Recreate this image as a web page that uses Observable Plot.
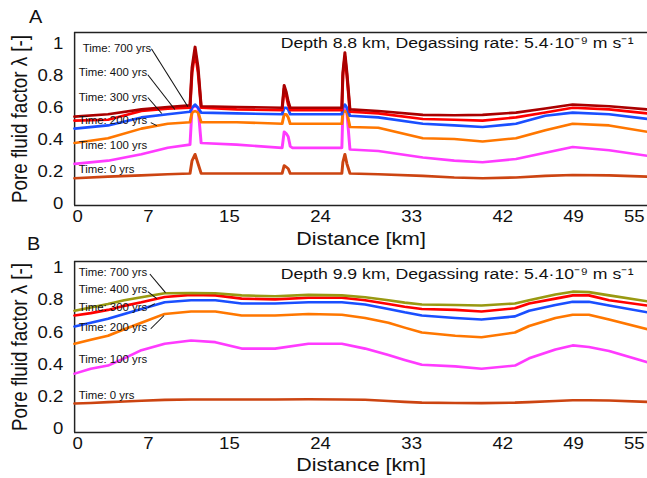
<!DOCTYPE html>
<html><head><meta charset="utf-8">
<script src="https://cdn.jsdelivr.net/npm/d3@7"></script>
<script src="https://cdn.jsdelivr.net/npm/@observablehq/plot@0.6"></script>
<style>
body{margin:0;background:#fff;}
#chart{position:relative;width:647px;height:478px;overflow:hidden;background:#fff;font-family:"Liberation Sans",Arial,sans-serif;}
#chart svg{display:block;}
</style>
</head><body><div id="chart"></div>
<script>
// ---- data ----
const xTicks = [0, 7, 15, 24, 33, 42, 49, 55];
const yTicks = [0, 0.2, 0.4, 0.6, 0.8, 1];
const times = ["0", "100", "200", "300", "400", "700"];
const colorsA = ["#cc4411", "#ff3bff", "#ff7700", "#1a4fff", "#ff0000", "#aa0000"];
const colorsB = ["#cc4411", "#ff3bff", "#ff7700", "#1a4fff", "#ff0000", "#999911"];
const labelText = ["Time: 700 yrs", "Time: 400 yrs", "Time: 300 yrs", "Time: 200 yrs", "Time: 100 yrs", "Time: 0 yrs"];

// Panel A (depth 8.8 km)
const distA = [0, 3.3, 6.6, 9.2, 11.4, 11.6, 11.9, 12.2, 12.5, 16, 20.5, 20.7, 20.9, 21.1, 21.3, 21.5, 24, 26.4, 26.5, 26.7, 26.9, 27.2, 30, 34.4, 37.5, 40.3, 43.6, 46.5, 49.2, 52.8, 56.6];
const A_t0   = [0.16, 0.17, 0.178, 0.185, 0.19, 0.27, 0.31, 0.25, 0.19, 0.19, 0.19, 0.24, 0.23, 0.22, 0.19, 0.19, 0.19, 0.19, 0.26, 0.31, 0.25, 0.19, 0.185, 0.175, 0.165, 0.16, 0.165, 0.175, 0.18, 0.178, 0.17];
const A_t100 = [0.25, 0.27, 0.31, 0.35, 0.37, 0.6, 0.61, 0.6, 0.38, 0.37, 0.35, 0.45, 0.44, 0.42, 0.36, 0.35, 0.35, 0.35, 0.58, 0.59, 0.57, 0.34, 0.33, 0.29, 0.27, 0.26, 0.28, 0.32, 0.355, 0.335, 0.30];
const A_t200 = [0.38, 0.41, 0.47, 0.50, 0.51, 0.57, 0.58, 0.57, 0.51, 0.51, 0.50, 0.56, 0.56, 0.54, 0.50, 0.50, 0.50, 0.50, 0.57, 0.58, 0.57, 0.48, 0.475, 0.41, 0.405, 0.39, 0.41, 0.46, 0.50, 0.49, 0.45];
const A_t300 = [0.47, 0.49, 0.54, 0.56, 0.575, 0.6, 0.62, 0.6, 0.57, 0.565, 0.56, 0.6, 0.6, 0.59, 0.56, 0.56, 0.56, 0.56, 0.6, 0.62, 0.6, 0.55, 0.54, 0.50, 0.49, 0.48, 0.50, 0.55, 0.57, 0.56, 0.53];
const A_t400 = [0.52, 0.525, 0.58, 0.595, 0.60, 0.82, 0.95, 0.82, 0.60, 0.59, 0.585, 0.72, 0.68, 0.62, 0.585, 0.585, 0.585, 0.585, 0.8, 0.92, 0.8, 0.575, 0.565, 0.53, 0.525, 0.52, 0.54, 0.57, 0.60, 0.59, 0.565];
const A_t700 = [0.545, 0.56, 0.59, 0.605, 0.615, 0.85, 0.98, 0.85, 0.61, 0.605, 0.60, 0.74, 0.70, 0.64, 0.60, 0.60, 0.60, 0.60, 0.82, 0.945, 0.82, 0.59, 0.58, 0.556, 0.553, 0.556, 0.57, 0.595, 0.62, 0.61, 0.59];
const labelXA = [0.8, 0.4, 0.4, 0.4, 0.4, 0.4];
const labelYA = [0.971, 0.819, 0.665, 0.516, 0.364, 0.213];
const leadX1A = [7.59, 7.23, 7.23, 7.52];
const leadY1A = [0.969, 0.807, 0.664, 0.508];
const leadX2A = [11.19, 9.90, 8.61, 8.12];
const leadY2A = [0.607, 0.589, 0.564, 0.489];

// Panel B (depth 9.9 km)
const distB = [0, 1.6, 3.3, 4.9, 6.6, 8.9, 11.5, 13.9, 16.5, 19.8, 23.1, 26.4, 28.7, 31, 32.6, 34.3, 37.6, 40.2, 43.5, 44.9, 47.5, 49.2, 50.8, 52.8, 56.6];
const B_t0   = [0.16, 0.163, 0.168, 0.172, 0.177, 0.182, 0.185, 0.185, 0.185, 0.185, 0.186, 0.185, 0.183, 0.175, 0.17, 0.165, 0.163, 0.162, 0.165, 0.168, 0.175, 0.18, 0.18, 0.178, 0.17];
const B_t100 = [0.345, 0.375, 0.395, 0.44, 0.49, 0.53, 0.55, 0.54, 0.50, 0.50, 0.53, 0.53, 0.50, 0.46, 0.43, 0.40, 0.39, 0.375, 0.395, 0.44, 0.495, 0.52, 0.51, 0.485, 0.415];
const B_t200 = [0.53, 0.555, 0.58, 0.62, 0.66, 0.715, 0.73, 0.73, 0.705, 0.705, 0.715, 0.71, 0.69, 0.66, 0.63, 0.60, 0.58, 0.57, 0.60, 0.64, 0.69, 0.71, 0.71, 0.68, 0.62];
const B_t300 = [0.637, 0.66, 0.685, 0.715, 0.745, 0.787, 0.80, 0.80, 0.78, 0.78, 0.787, 0.787, 0.773, 0.746, 0.725, 0.705, 0.69, 0.68, 0.70, 0.735, 0.77, 0.79, 0.79, 0.767, 0.725];
const B_t400 = [0.705, 0.72, 0.74, 0.765, 0.787, 0.82, 0.833, 0.83, 0.81, 0.805, 0.815, 0.815, 0.80, 0.777, 0.76, 0.746, 0.74, 0.73, 0.75, 0.78, 0.81, 0.83, 0.83, 0.80, 0.767];
const B_t700 = [0.735, 0.755, 0.777, 0.80, 0.818, 0.843, 0.845, 0.843, 0.83, 0.825, 0.833, 0.83, 0.818, 0.80, 0.785, 0.773, 0.77, 0.767, 0.78, 0.80, 0.835, 0.853, 0.85, 0.83, 0.793];
const labelXB = [0.4, 0.4, 0.4, 0.4, 0.4, 0.4];
const labelYB = [0.969, 0.866, 0.756, 0.626, 0.433, 0.210];
const leadX1B = [7.43, 7.23, 7.23, 7.52];
const leadY1B = [0.962, 0.853, 0.754, 0.623];
const leadX2B = [8.98, 8.12, 7.92, 8.84];
const leadY2B = [0.847, 0.81, 0.779, 0.705];

// ---- drawing ----
const W = 568, OUTW = 647;
function panel(o) {
  const rows = o.series.flatMap((vals, i) => vals.map((v, j) => ({x: o.dist[j], y: v, t: times[i]})));
  const leaders = o.lx1.map((_, i) => ({x1: o.lx1[i], y1: o.ly1[i], x2: o.lx2[i], y2: o.ly2[i]}));
  const labels = labelText.map((s, i) => ({s, x: o.labX[i], y: o.labY[i]}));
  const svg = Plot.plot({
    width: W, height: o.height,
    marginTop: o.mt, marginBottom: o.mb, marginLeft: 65, marginRight: 0,
    style: {fontFamily: "Liberation Sans, Arial, sans-serif", background: "transparent", overflow: "visible"},
    x: {domain: [0, 56.6]},
    y: {domain: o.yDomain},
    color: {domain: times, range: o.colors},
    marks: [
      Plot.ruleY(o.yDomain, {stroke: "#222", strokeWidth: 1.3}),
      Plot.ruleX([0], {stroke: "#222", strokeWidth: 1.3}),
      Plot.axisX({ticks: xTicks, tickSize: 0, tickPadding: 5, fontSize: 16.3, dx: 2.6, label: null, tickFormat: d => String(d), fill: "#111"}),
      Plot.axisY({ticks: yTicks, tickSize: 0, tickPadding: 10, fontSize: 16.3, label: null, tickFormat: d => String(d), fill: "#111"}),
      Plot.line(rows, {x: "x", y: "y", z: "t", stroke: "t", strokeWidth: 2.6}),
      Plot.link(leaders, {x1: "x1", y1: "y1", x2: "x2", y2: "y2", stroke: "#111", strokeWidth: 0.9}),
      Plot.text(labels, {x: "x", y: "y", text: "s", textAnchor: "start", fontSize: 10, fill: "#111"}),
      Plot.text([o.header], {frameAnchor: "top-right", dx: -12.3, dy: o.hdy, lineAnchor: "middle", textAnchor: "end", fontSize: 15.5, fill: "#111"}),
      Plot.text(["Pore fluid factor λ [-]"], {frameAnchor: "left", rotate: -90, dx: -47.4, textAnchor: "middle", lineAnchor: "middle", fontSize: 18.8, fill: "#111"}),
      Plot.text(["Distance [km]"], {frameAnchor: "bottom", dy: o.xdy, textAnchor: "middle", lineAnchor: "middle", fontSize: 18.8, fill: "#111"}),
      Plot.text([o.letter], {frameAnchor: "top-left", dx: o.ldx, dy: o.ldy, textAnchor: "middle", lineAnchor: "middle", fontSize: 17.5, fill: "#111"})
    ]
  });
  svg.setAttribute("width", OUTW);
  svg.setAttribute("preserveAspectRatio", "none");
  svg.style.width = OUTW + "px";
  svg.style.height = o.height + "px";
  svg.style.maxWidth = "none";
  return svg;
}

const chart = document.getElementById("chart");
chart.appendChild(panel({
  height: 236, mt: 32, mb: 31, yDomain: [-0.01, 1.07], colors: colorsA,
  dist: distA, series: [A_t0, A_t100, A_t200, A_t300, A_t400, A_t700],
  labX: labelXA, labY: labelYA, lx1: leadX1A, ly1: leadY1A, lx2: leadX2A, ly2: leadY2A,
  header: "Depth 8.8 km, Degassing rate: 5.4·10⁻⁹ m s⁻¹", hdy: 10.7, xdy: 33,
  letter: "A", ldx: -34.2, ldy: -15.3
}));
chart.appendChild(panel({
  height: 242, mt: 25, mb: 46, yDomain: [-0.02, 1.04], colors: colorsB,
  dist: distB, series: [B_t0, B_t100, B_t200, B_t300, B_t400, B_t700],
  labX: labelXB, labY: labelYB, lx1: leadX1B, ly1: leadY1B, lx2: leadX2B, ly2: leadY2B,
  header: "Depth 9.9 km, Degassing rate: 5.4·10⁻⁹ m s⁻¹", hdy: 12.3, xdy: 32,
  letter: "B", ldx: -36, ldy: -17
}));
</script>
</body></html>
